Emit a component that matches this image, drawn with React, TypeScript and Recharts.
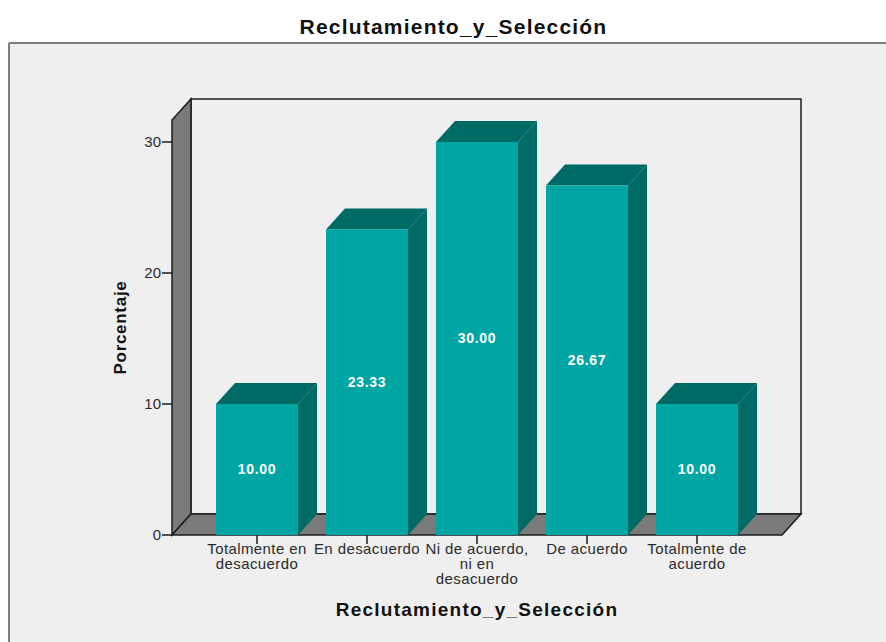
import React from "react";
import { BarChart, Bar, XAxis, YAxis, LabelList, Customized } from "recharts";

const categories = [
  "Totalmente en\ndesacuerdo",
  "En desacuerdo",
  "Ni de acuerdo,\nni en\ndesacuerdo",
  "De acuerdo",
  "Totalmente de\nacuerdo",
];
const percentages = [10, 23.33, 30, 26.67, 10];
const valueTicks = [0, 10, 20, 30];
const titleText = "Reclutamiento_y_Selección";
const yAxisTitle = "Porcentaje";

const rows = categories.map((category, i) => ({ category, percent: percentages[i] }));

const WIDTH = 886;
const HEIGHT = 642;
const PLOT = { left: 172, right: 782, top: 120, bottom: 535 };
const DEPTH_X = 19;
const DEPTH_Y = 21;
const FONT = "'Liberation Sans', Arial, sans-serif";
const PANEL = "#efefef";
const WALL = "#7a7a7a";
const FRONT = "#00a6a3";
const SHADE = "#006a65";
const INK = "#1c1c1c";

// Panel, side wall, floor and back wall of the box the bars stand in.
function ChartBox() {
  const { left, right, top, bottom } = PLOT;
  return (
    <g>
      <rect x={9} y={43} width={WIDTH - 9} height={HEIGHT - 43} fill={PANEL} />
      <line x1={9} y1={43} x2={WIDTH} y2={43} stroke="#7d7d7d" strokeWidth={2} />
      <line x1={9} y1={43} x2={9} y2={HEIGHT} stroke="#7d7d7d" strokeWidth={2} />
      <rect
        x={left + DEPTH_X}
        y={top - DEPTH_Y}
        width={right - left}
        height={bottom - top}
        fill={PANEL}
        stroke={INK}
        strokeWidth={1.5}
      />
      <polygon
        points={`${left},${bottom} ${left},${top} ${left + DEPTH_X},${top - DEPTH_Y} ${left + DEPTH_X},${bottom - DEPTH_Y}`}
        fill={WALL}
        stroke={INK}
        strokeWidth={1.5}
      />
      <polygon
        points={`${left},${bottom} ${left + DEPTH_X},${bottom - DEPTH_Y} ${right + DEPTH_X},${bottom - DEPTH_Y} ${right},${bottom}`}
        fill={WALL}
        stroke={INK}
        strokeWidth={1.5}
      />
      <text
        x={453.5}
        y={34}
        textAnchor="middle"
        fontFamily={FONT}
        fontWeight={700}
        fontSize={21}
        letterSpacing={1.2}
        fill="#111"
      >
        {titleText}
      </text>
    </g>
  );
}

// A bar drawn as an extruded block: front face, top face and right face.
function Block(props: any) {
  const { x, y, width, height } = props;
  const r = x + width;
  const b = y + height;
  return (
    <g>
      <polygon
        points={`${x},${y} ${x + DEPTH_X},${y - DEPTH_Y} ${r + DEPTH_X},${y - DEPTH_Y} ${r},${y}`}
        fill={SHADE}
      />
      <polygon
        points={`${r},${y} ${r + DEPTH_X},${y - DEPTH_Y} ${r + DEPTH_X},${b - DEPTH_Y} ${r},${b}`}
        fill={SHADE}
      />
      <rect x={x} y={y} width={width} height={height} fill={FRONT} />
    </g>
  );
}

// Category label broken over the lines given in its name.
function CategoryTick(props: any) {
  const { x, y, payload } = props;
  const lines = String(payload.value).split("\n");
  return (
    <text x={x} y={y} textAnchor="middle" fontFamily={FONT} fontSize={15} letterSpacing={0.4} fill="#2b2b2b">
      {lines.map((line, i) => (
        <tspan key={i} x={x} dy={i === 0 ? 8 : 15}>
          {line}
        </tspan>
      ))}
    </text>
  );
}

export default function App() {
  return (
    <div style={{ position: "absolute", left: 0, top: 0, width: WIDTH, height: HEIGHT, overflow: "hidden" }}>
      <BarChart
        width={WIDTH}
        height={HEIGHT}
        data={rows}
        margin={{ left: 0, right: WIDTH - PLOT.right, top: PLOT.top, bottom: 0 }}
        barCategoryGap={0}
      >
        <Customized component={ChartBox} />
        <XAxis
          dataKey="category"
          interval={0}
          padding={{ left: 30, right: 30 }}
          axisLine={false}
          tickLine={{ stroke: INK, strokeWidth: 1.5 }}
          tickSize={9}
          tick={<CategoryTick />}
          height={HEIGHT - PLOT.bottom}
          label={{
            value: titleText,
            position: "insideTop",
            offset: 68,
            fontFamily: FONT,
            fontWeight: 700,
            fontSize: 19,
            letterSpacing: 1.25,
            fill: "#111",
          }}
        />
        <YAxis
          type="number"
          domain={[0, (PLOT.bottom - PLOT.top) / 13.1]}
          ticks={valueTicks}
          axisLine={false}
          tickLine={{ stroke: INK, strokeWidth: 1.5 }}
          tickSize={10}
          tickMargin={1}
          width={PLOT.left}
          tick={{ fontFamily: FONT, fontSize: 15, fill: "#2b2b2b" }}
          label={{
            value: yAxisTitle,
            angle: -90,
            position: "center",
            dx: 34,
            dy: 0,
            fontFamily: FONT,
            fontWeight: 700,
            fontSize: 17,
            letterSpacing: 0.7,
            fill: "#111",
          }}
        />
        <Bar dataKey="percent" barSize={82} shape={<Block />} isAnimationActive={false}>
          <LabelList
            dataKey="percent"
            position="center"
            formatter={(v: any) => Number(v).toFixed(2)}
            fill="#ffffff"
            fontFamily={FONT}
            fontWeight={700}
            fontSize={14}
            letterSpacing={0.7}
          />
        </Bar>
      </BarChart>
    </div>
  );
}
